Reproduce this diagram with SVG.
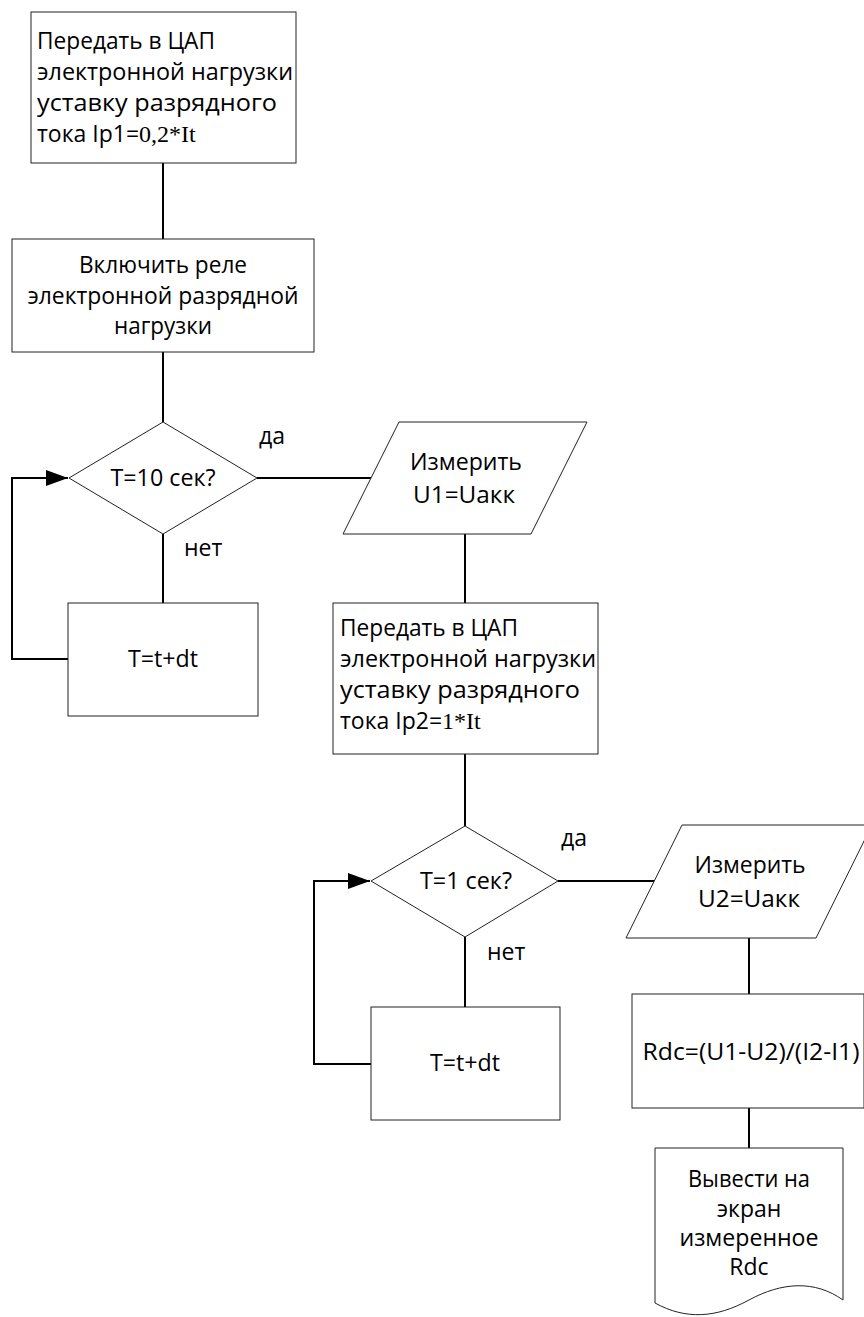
<svg xmlns="http://www.w3.org/2000/svg" width="864" height="1317" viewBox="0 0 864 1317">
<style>
.shape{fill:#fff;stroke:#222;stroke-width:1}
.conn{fill:none;stroke:#000;stroke-width:2}
text{font-family:"Open Sans","Noto Sans","Liberation Sans",sans-serif;font-size:23px;fill:#000}
.c{text-anchor:middle}
.serif{font-family:"Liberation Serif","Times New Roman",serif;font-size:24px}
</style>
<defs>
<marker id="arr" markerUnits="userSpaceOnUse" markerWidth="24" markerHeight="18" refX="22" refY="8" orient="auto">
<path d="M0,0 L22,8 L0,16 Z" fill="#000"/>
</marker>
</defs>
<rect width="864" height="1317" fill="#fff"/>
<g id="connectors">
<path class="conn" d="M163,163 V239"/>
<path class="conn" d="M163,352 V422"/>
<path class="conn" d="M257,478 H371"/>
<path class="conn" d="M163,534 V603"/>
<path class="conn" d="M68,659 H12 V478 H68" marker-end="url(#arr)"/>
<path class="conn" d="M465,534 V603"/>
<path class="conn" d="M465,754 V826"/>
<path class="conn" d="M558,881 H655"/>
<path class="conn" d="M465,937 V1007"/>
<path class="conn" d="M371,1064 H314 V881 H370" marker-end="url(#arr)"/>
<path class="conn" d="M749,938 V994"/>
<path class="conn" d="M749,1108 V1148"/>
</g>
<g id="labels">
<text x="259" y="444">да</text>
<text x="184" y="556">нет</text>
<text x="561" y="846">да</text>
<text x="487" y="960">нет</text>
</g>
<g id="box1">
<rect class="shape" x="31" y="12" width="265" height="151"/>
<text x="37" y="49" textLength="178" lengthAdjust="spacingAndGlyphs">Передать в ЦАП</text>
<text x="37" y="80" textLength="256" lengthAdjust="spacingAndGlyphs">электронной нагрузки</text>
<text x="37" y="111" textLength="240" lengthAdjust="spacingAndGlyphs">уставку разрядного</text>
<text x="37" y="142">тока Ip1=<tspan class="serif">0,2*It</tspan></text>
</g>
<g id="box2">
<rect class="shape" x="12" y="239" width="302" height="113"/>
<text class="c" x="163" y="273" textLength="168" lengthAdjust="spacingAndGlyphs">Включить реле</text>
<text class="c" x="163" y="304" textLength="271" lengthAdjust="spacingAndGlyphs">электронной разрядной</text>
<text class="c" x="163" y="334" textLength="98" lengthAdjust="spacingAndGlyphs">нагрузки</text>
</g>
<g id="decision1">
<polygon class="shape" points="163,422 257,478 163,534 69,478"/>
<text class="c" x="163" y="486" textLength="105" lengthAdjust="spacingAndGlyphs">T=10 сек?</text>
</g>
<g id="io1">
<polygon class="shape" points="399,422 587,422 531,534 343,534"/>
<text class="c" x="466" y="470" textLength="112" lengthAdjust="spacingAndGlyphs">Измерить</text>
<text class="c" x="464" y="503" textLength="102" lengthAdjust="spacingAndGlyphs">U1=Uакк</text>
</g>
<g id="step1">
<rect class="shape" x="68" y="603" width="190" height="113"/>
<text class="c" x="163" y="667" textLength="70" lengthAdjust="spacingAndGlyphs">T=t+dt</text>
</g>
<g id="box3">
<rect class="shape" x="333" y="603" width="265" height="151"/>
<text x="340" y="636" textLength="178" lengthAdjust="spacingAndGlyphs">Передать в ЦАП</text>
<text x="340" y="667" textLength="256" lengthAdjust="spacingAndGlyphs">электронной нагрузки</text>
<text x="340" y="698" textLength="240" lengthAdjust="spacingAndGlyphs">уставку разрядного</text>
<text x="340" y="729">тока Ip2=<tspan class="serif">1*It</tspan></text>
</g>
<g id="decision2">
<polygon class="shape" points="465,826 558,881 465,937 371,881"/>
<text class="c" x="466" y="889" textLength="92" lengthAdjust="spacingAndGlyphs">T=1 сек?</text>
</g>
<g id="io2">
<polygon class="shape" points="682,825 872,825 816,938 626,938"/>
<text class="c" x="750" y="873" textLength="111" lengthAdjust="spacingAndGlyphs">Измерить</text>
<text class="c" x="749" y="907" textLength="102" lengthAdjust="spacingAndGlyphs">U2=Uакк</text>
</g>
<g id="step2">
<rect class="shape" x="371" y="1007" width="189" height="113"/>
<text class="c" x="465" y="1071" textLength="70" lengthAdjust="spacingAndGlyphs">T=t+dt</text>
</g>
<g id="calc">
<rect class="shape" x="632" y="994" width="232" height="114"/>
<text class="c" x="751" y="1060" textLength="217" lengthAdjust="spacingAndGlyphs">Rdc=(U1-U2)/(I2-I1)</text>
</g>
<g id="output">
<path class="shape" d="M655,1148 H843 V1300 C815,1280 782,1282 749,1300 C716,1318 686,1320 655,1303 Z"/>
<text class="c" x="749" y="1187" textLength="122" lengthAdjust="spacingAndGlyphs">Вывести на</text>
<text class="c" x="749" y="1217">экран</text>
<text class="c" x="749" y="1246" textLength="139" lengthAdjust="spacingAndGlyphs">измеренное</text>
<text class="c" x="749" y="1275">Rdc</text>
</g>
</svg>
